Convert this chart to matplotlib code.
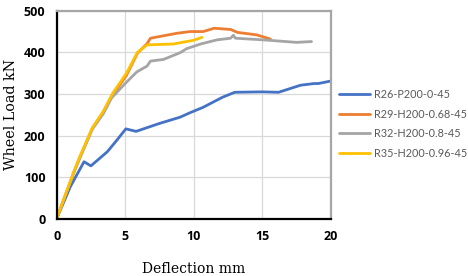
import matplotlib
matplotlib.use('Agg')
import matplotlib.pyplot as plt

# deflection (mm) / wheel load (kN)
r26_x = [0, 1.0, 2.0, 2.5, 3.7, 4.4, 5.05, 5.8, 7.5, 9.0, 9.75, 10.7, 12.1, 13.0, 15.0, 16.2, 17.8, 18.8, 19.1, 20.0]
r26_y = [0, 77, 137, 127, 161, 189, 216, 210, 229, 244, 255, 268, 292, 304, 305, 304, 321, 325, 325, 331]

r29_x = [0, 1.3, 1.7, 2.6, 3.4, 4.1, 5.1, 5.9, 6.6, 6.85, 8.8, 9.75, 10.7, 11.5, 12.7, 13.2, 14.6, 15.6]
r29_y = [0, 115, 147, 217, 256, 298, 345, 398, 421, 434, 446, 450, 450, 458, 455, 448, 442, 432]

r32_x = [0, 1.3, 1.7, 2.6, 3.4, 4.0, 5.0, 5.85, 6.6, 6.85, 7.8, 9.0, 9.5, 10.5, 11.7, 12.7, 12.9, 13.05, 15.1, 16.3, 17.5, 18.6]
r32_y = [0, 115, 147, 215, 252, 290, 325, 353, 367, 379, 383, 399, 409, 420, 430, 434, 441, 434, 430, 427, 424, 426]

r35_x = [0, 1.3, 1.7, 2.6, 3.4, 4.1, 5.1, 5.9, 6.6, 8.5, 10.0, 10.6]
r35_y = [0, 117, 150, 218, 258, 302, 350, 400, 418, 420, 429, 436]

labels = ['R26-P200-0-45', 'R29-H200-0.68-45', 'R32-H200-0.8-45', 'R35-H200-0.96-45']
colors = ['#4472C4', '#ED7D31', '#A5A5A5', '#FFC000']

x_ticks = [0, 5, 10, 15, 20]
y_ticks = [0, 100, 200, 300, 400, 500]


def main():
	fig = plt.figure(figsize=(4.68, 2.76), dpi=100)
	ax = fig.add_axes([0.121, 0.2076, 0.5856, 0.7534])

	series = [(r26_x, r26_y), (r29_x, r29_y), (r32_x, r32_y), (r35_x, r35_y)]
	for (xs, ys), lab, col in zip(series, labels, colors):
		ax.plot(xs, ys, color=col, lw=2.0, label=lab, solid_capstyle='round')

	ax.set_xlim(0, 20)
	ax.set_ylim(0, 500)
	ax.set_xticks(x_ticks)
	ax.set_yticks(y_ticks)
	ax.grid(True, color='#d9d9d9', lw=0.9)
	ax.set_axisbelow(True)
	ax.tick_params(length=0, pad=8)
	for lab in ax.get_xticklabels() + ax.get_yticklabels():
		lab.set_fontweight('bold')
		lab.set_fontsize(9)
		lab.set_family('Open Sans')

	ax.spines['left'].set_color('black')
	ax.spines['bottom'].set_color('black')
	ax.spines['left'].set_linewidth(1.6)
	ax.spines['bottom'].set_linewidth(1.6)
	ax.spines['top'].set_color('#a6a6a6')
	ax.spines['right'].set_color('#a6a6a6')
	ax.spines['top'].set_linewidth(1.6)
	ax.spines['right'].set_linewidth(1.6)

	ax.set_xlabel('Deflection mm', family='DejaVu Serif', fontsize=10, labelpad=14)
	ax.set_ylabel('Wheel Load kN', family='DejaVu Serif', fontsize=10.3, labelpad=4)

	handles, labs = ax.get_legend_handles_labels()
	leg = fig.legend(handles, labs, loc='center left', bbox_to_anchor=(339 / 468, 0.551),
		frameon=False, borderpad=0, borderaxespad=0, handlelength=2.9,
		handletextpad=0.3, labelspacing=0.78, prop={'family': 'Lato', 'size': 7.8})
	for t in leg.get_texts():
		t.set_color('#595959')

	fig.savefig('out.png', dpi=100)


if __name__ == '__main__':
	main()
